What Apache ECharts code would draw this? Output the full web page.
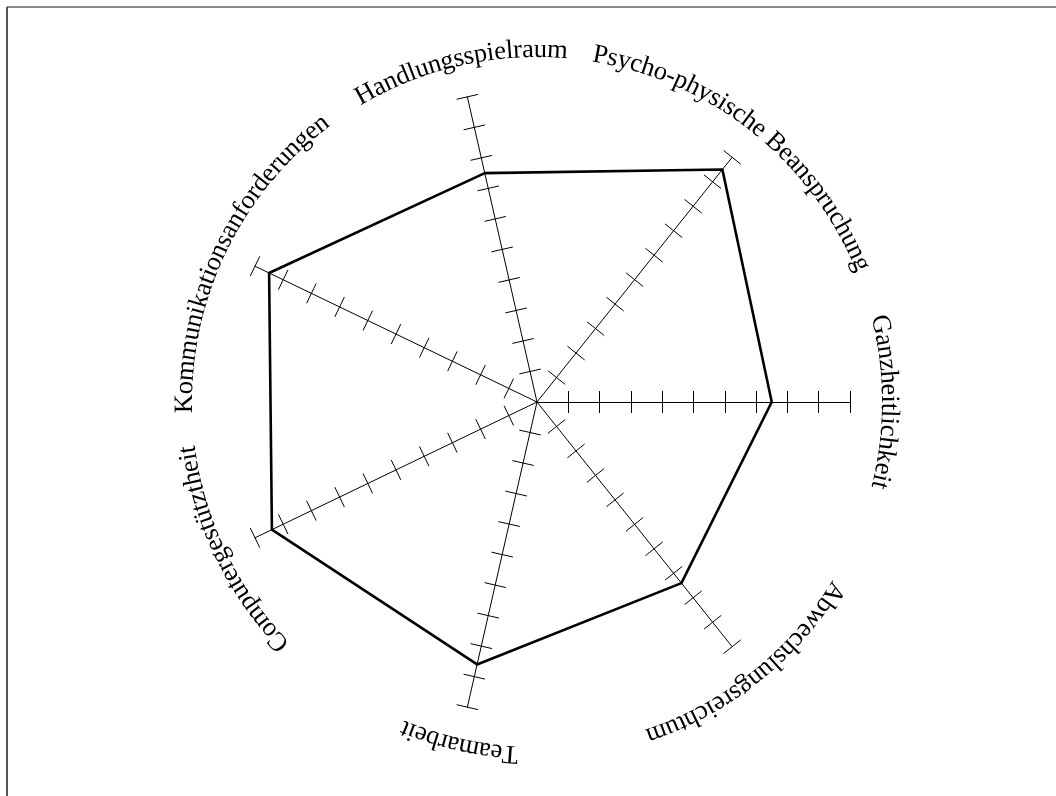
<!DOCTYPE html>
<html>
<head>
<meta charset="utf-8">
<script src="https://cdn.jsdelivr.net/npm/echarts@6/dist/echarts.min.js"></script>
<style>
  html, body { margin: 0; padding: 0; background: #fff; }
  #chart { width: 1056px; height: 796px; }
</style>
</head>
<body>
<div id="chart"></div>
<script>
// Achsen und Werte
const indicatorNames = [
  'Ganzheitlichkeit',
  'Psycho-physische Beanspruchung',
  'Handlungsspielraum',
  'Kommunikationsanforderungen',
  'Computergestütztheit',
  'Teamarbeit',
  'Abwechslungsreichtum'
];
const values = [7.5, 9.5, 7.5, 9.5, 9.4, 8.6, 7.4];
const axisMax = 10;

// Layout
const cx = 537, cy = 402, R = 313;
const labelRadius = 352;
const labelFont = '26.5px "Liberation Serif"';
const tickLen = 11;

const chart = echarts.init(document.getElementById('chart'));

// Ticks: Nebenstriche bei 1..10 (Achse bis 11 verlängert, Linie ausgeblendet)
function tickRadar(len) {
  return {
    center: [cx, cy],
    radius: R * (axisMax + 1) / axisMax,
    startAngle: 0,
    shape: 'polygon',
    splitNumber: 1,
    axisName: { show: false },
    axisLine: { show: false },
    axisTick: { show: false },
    axisLabel: { show: false },
    splitLine: { show: false },
    splitArea: { show: false },
    indicator: indicatorNames.map(n => ({
      name: n, min: 0, max: axisMax + 1,
      minorTick: { show: true, splitNumber: axisMax + 1, length: len, lineStyle: { color: '#000', width: 1 } }
    }))
  };
}

// Beschriftung entlang des Kreises, Buchstabe für Buchstabe
const ctx = document.createElement('canvas').getContext('2d');
ctx.font = labelFont;
function arcLabel(text, angleDeg) {
  const chars = Array.from(text);
  const widths = chars.map(c => ctx.measureText(c).width);
  const total = widths.reduce((a, b) => a + b, 0);
  let s = 0;
  return chars.map((c, i) => {
    const mid = s + widths[i] / 2;
    s += widths[i];
    const th = angleDeg * Math.PI / 180 + (total / 2 - mid) / labelRadius;
    return {
      type: 'text',
      x: cx + labelRadius * Math.cos(th),
      y: cy - labelRadius * Math.sin(th),
      rotation: th - Math.PI / 2,
      style: { text: c, font: labelFont, fill: '#000', align: 'center', verticalAlign: 'middle' }
    };
  });
}

let labels = [];
indicatorNames.forEach((n, i) => {
  labels = labels.concat(arcLabel(n, i * 360 / indicatorNames.length));
});

chart.setOption({
  animation: false,
  backgroundColor: '#fff',
  radar: [
    {
      center: [cx, cy],
      radius: R,
      startAngle: 0,
      shape: 'polygon',
      splitNumber: 10,
      axisName: { show: false },
      axisLine: { show: true, lineStyle: { color: '#000', width: 1 } },
      axisTick: { show: false },
      axisLabel: { show: false },
      splitLine: { show: false },
      splitArea: { show: false },
      indicator: indicatorNames.map(n => ({ name: n, min: 0, max: axisMax }))
    },
    tickRadar(tickLen),
    tickRadar(-tickLen)
  ],
  graphic: [
    { type: 'line', shape: { x1: 7, y1: 7, x2: 1056, y2: 7 }, style: { stroke: '#888', lineWidth: 2 } },
    { type: 'line', shape: { x1: 7, y1: 7, x2: 7, y2: 796 }, style: { stroke: '#555', lineWidth: 2 } }
  ].concat(labels),
  series: [{
    type: 'radar',
    radarIndex: 0,
    symbol: 'none',
    lineStyle: { color: '#000', width: 2.6 },
    data: [{ value: values, name: 'Profil' }]
  }]
});
</script>
</body>
</html>
